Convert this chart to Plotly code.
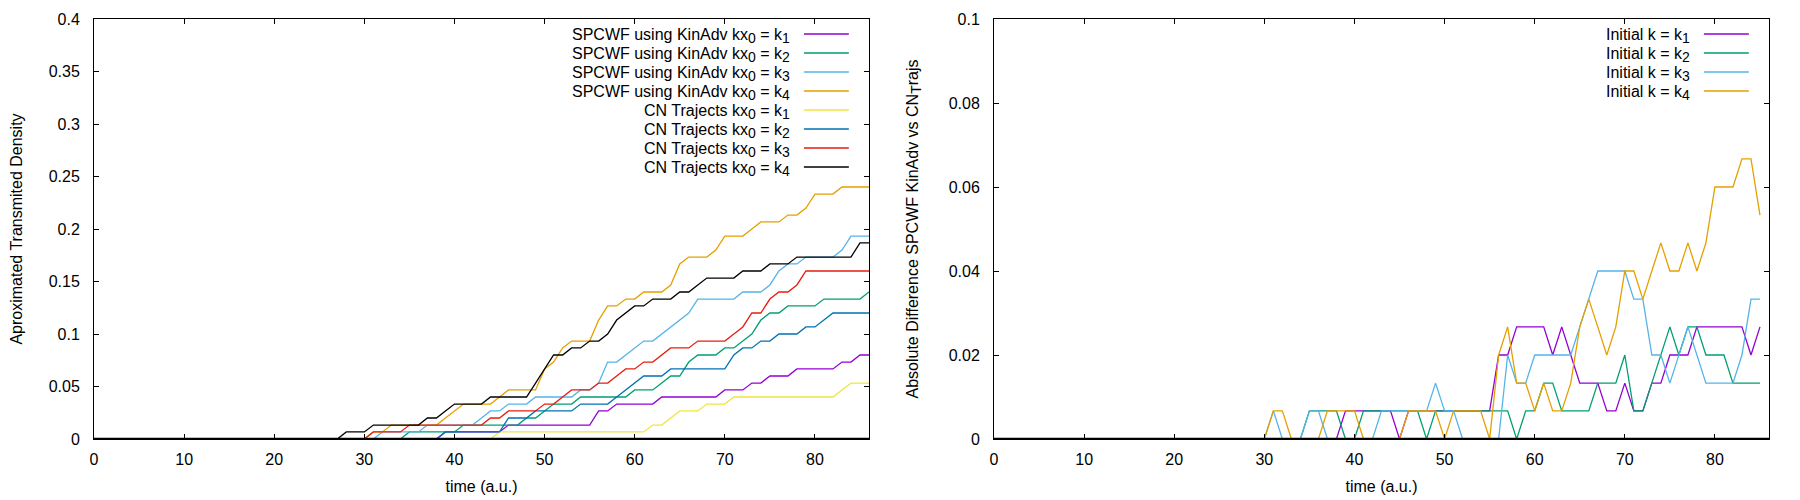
import plotly.graph_objects as go

# ---------------- data ----------------
time_left = list(range(0, 87))
time_right = list(range(0, 86))

spcwf_k1 = [
    0, 0, 0, 0, 0, 0, 0, 0, 0, 0,
    0, 0, 0, 0, 0, 0, 0, 0, 0, 0,
    0, 0, 0, 0, 0, 0, 0, 0, 0, 0,
    0, 0, 0, 0, 0, 0, 0, 0, 0, 0.0067,
    0.0067, 0.0067, 0.0067, 0.0067, 0.0067, 0.0067, 0.0133, 0.0133, 0.0133, 0.0133,
    0.0133, 0.0133, 0.0133, 0.0133, 0.0133, 0.0133, 0.0267, 0.0267, 0.0333, 0.0333,
    0.0333, 0.0333, 0.0333, 0.04, 0.04, 0.04, 0.04, 0.04, 0.04, 0.04,
    0.0467, 0.0467, 0.0467, 0.0533, 0.0533, 0.06, 0.06, 0.06, 0.0667, 0.0667,
    0.0667, 0.0667, 0.0667, 0.0733, 0.0733, 0.08, 0.08]

spcwf_k2 = [
    0, 0, 0, 0, 0, 0, 0, 0, 0, 0,
    0, 0, 0, 0, 0, 0, 0, 0, 0, 0,
    0, 0, 0, 0, 0, 0, 0, 0, 0, 0,
    0, 0, 0, 0, 0, 0.0067, 0.0067, 0.0067, 0.0067, 0.0067,
    0.0067, 0.0133, 0.0133, 0.0133, 0.0133, 0.0133, 0.0133, 0.0133, 0.02, 0.02,
    0.0267, 0.0333, 0.0333, 0.0333, 0.04, 0.04, 0.04, 0.04, 0.04, 0.04,
    0.0467, 0.0467, 0.0467, 0.0533, 0.06, 0.06, 0.0733, 0.08, 0.08, 0.08,
    0.0867, 0.0867, 0.0933, 0.1, 0.1133, 0.12, 0.12, 0.1267, 0.1267, 0.1267,
    0.1267, 0.1333, 0.1333, 0.1333, 0.1333, 0.1333, 0.14]

spcwf_k3 = [
    0, 0, 0, 0, 0, 0, 0, 0, 0, 0,
    0, 0, 0, 0, 0, 0, 0, 0, 0, 0,
    0, 0, 0, 0, 0, 0, 0, 0, 0, 0,
    0, 0, 0.0067, 0.0067, 0.0067, 0.0067, 0.0067, 0.0133, 0.0133, 0.0133,
    0.0133, 0.0133, 0.0133, 0.02, 0.0267, 0.0267, 0.0333, 0.0333, 0.0333, 0.04,
    0.04, 0.04, 0.04, 0.04, 0.0467, 0.0467, 0.0533, 0.0733, 0.0733, 0.08,
    0.0867, 0.0933, 0.0933, 0.1, 0.1067, 0.1133, 0.12, 0.1333, 0.1333, 0.1333,
    0.1333, 0.1333, 0.14, 0.14, 0.14, 0.1467, 0.16, 0.1667, 0.1667, 0.1733,
    0.1733, 0.1733, 0.1733, 0.18, 0.1933, 0.1933, 0.1933]

spcwf_k4 = [
    0, 0, 0, 0, 0, 0, 0, 0, 0, 0,
    0, 0, 0, 0, 0, 0, 0, 0, 0, 0,
    0, 0, 0, 0, 0, 0, 0, 0, 0, 0,
    0, 0.0067, 0.0067, 0.0133, 0.0133, 0.0133, 0.0133, 0.0133, 0.0133, 0.02,
    0.0267, 0.0333, 0.0333, 0.0333, 0.0333, 0.04, 0.0467, 0.0467, 0.0467, 0.0467,
    0.0667, 0.0733, 0.0867, 0.0933, 0.0933, 0.0933, 0.1133, 0.1267, 0.1267, 0.1333,
    0.1333, 0.14, 0.14, 0.14, 0.1467, 0.1667, 0.1733, 0.1733, 0.1733, 0.18,
    0.1933, 0.1933, 0.1933, 0.2, 0.2067, 0.2067, 0.2067, 0.2133, 0.2133, 0.22,
    0.2333, 0.2333, 0.2333, 0.24, 0.24, 0.24, 0.24]

cn_k1 = [
    0, 0, 0, 0, 0, 0, 0, 0, 0, 0,
    0, 0, 0, 0, 0, 0, 0, 0, 0, 0,
    0, 0, 0, 0, 0, 0, 0, 0, 0, 0,
    0, 0, 0, 0, 0, 0, 0, 0, 0, 0,
    0, 0, 0, 0, 0, 0.0067, 0.0067, 0.0067, 0.0067, 0.0067,
    0.0067, 0.0067, 0.0067, 0.0067, 0.0067, 0.0067, 0.0067, 0.0067, 0.0067, 0.0067,
    0.0067, 0.0067, 0.0133, 0.0133, 0.02, 0.0267, 0.0267, 0.0267, 0.0333, 0.0333,
    0.0333, 0.04, 0.04, 0.04, 0.04, 0.04, 0.04, 0.04, 0.04, 0.04,
    0.04, 0.04, 0.04, 0.0467, 0.0533, 0.0533, 0.0533]

cn_k2 = [
    0, 0, 0, 0, 0, 0, 0, 0, 0, 0,
    0, 0, 0, 0, 0, 0, 0, 0, 0, 0,
    0, 0, 0, 0, 0, 0, 0, 0, 0, 0,
    0, 0, 0, 0, 0, 0, 0, 0, 0, 0.0067,
    0.0067, 0.0067, 0.0067, 0.0067, 0.0067, 0.0067, 0.02, 0.02, 0.02, 0.0267,
    0.0267, 0.0267, 0.0267, 0.0267, 0.0333, 0.0333, 0.0333, 0.0333, 0.04, 0.0467,
    0.0533, 0.06, 0.06, 0.06, 0.0667, 0.0667, 0.0667, 0.0667, 0.0667, 0.0667,
    0.0667, 0.08, 0.0867, 0.0867, 0.0933, 0.0933, 0.1, 0.1, 0.1, 0.1067,
    0.1067, 0.1133, 0.12, 0.12, 0.12, 0.12, 0.12]

cn_k3 = [
    0, 0, 0, 0, 0, 0, 0, 0, 0, 0,
    0, 0, 0, 0, 0, 0, 0, 0, 0, 0,
    0, 0, 0, 0, 0, 0, 0, 0, 0, 0,
    0, 0.0067, 0.0067, 0.0067, 0.0067, 0.0133, 0.0133, 0.0133, 0.0133, 0.0133,
    0.0133, 0.0133, 0.0133, 0.0133, 0.02, 0.02, 0.0267, 0.0267, 0.0267, 0.0267,
    0.0333, 0.0333, 0.04, 0.0467, 0.0467, 0.0467, 0.0533, 0.0533, 0.06, 0.0667,
    0.0667, 0.0733, 0.0733, 0.08, 0.0867, 0.0867, 0.0867, 0.0933, 0.0933, 0.0933,
    0.0933, 0.1, 0.1067, 0.12, 0.12, 0.1333, 0.14, 0.14, 0.1467, 0.16,
    0.16, 0.16, 0.16, 0.16, 0.16, 0.16, 0.16]

cn_k4 = [
    0, 0, 0, 0, 0, 0, 0, 0, 0, 0,
    0, 0, 0, 0, 0, 0, 0, 0, 0, 0,
    0, 0, 0, 0, 0, 0, 0, 0, 0.0067, 0.0067,
    0.0067, 0.0133, 0.0133, 0.0133, 0.0133, 0.0133, 0.0133, 0.02, 0.02, 0.0267,
    0.0333, 0.0333, 0.0333, 0.0333, 0.04, 0.04, 0.04, 0.04, 0.04, 0.0533,
    0.0667, 0.08, 0.08, 0.0867, 0.0867, 0.0933, 0.0933, 0.1, 0.1133, 0.12,
    0.1267, 0.1267, 0.1333, 0.1333, 0.1333, 0.14, 0.14, 0.1467, 0.1533, 0.1533,
    0.1533, 0.1533, 0.16, 0.16, 0.16, 0.1667, 0.1667, 0.1667, 0.1733, 0.1733,
    0.1733, 0.1733, 0.1733, 0.1733, 0.1733, 0.1867, 0.1867]

diff_k1 = [
    0, 0, 0, 0, 0, 0, 0, 0, 0, 0,
    0, 0, 0, 0, 0, 0, 0, 0, 0, 0,
    0, 0, 0, 0, 0, 0, 0, 0, 0, 0,
    0, 0, 0, 0, 0, 0, 0, 0, 0, 0.0067,
    0.0067, 0.0067, 0.0067, 0.0067, 0.0067, 0, 0.0067, 0.0067, 0.0067, 0.0067,
    0.0067, 0.0067, 0.0067, 0.0067, 0.0067, 0.0067, 0.02, 0.02, 0.0267, 0.0267,
    0.0267, 0.0267, 0.02, 0.0267, 0.02, 0.0133, 0.0133, 0.0133, 0.0067, 0.0067,
    0.0133, 0.0067, 0.0067, 0.0133, 0.0133, 0.02, 0.02, 0.02, 0.0267, 0.0267,
    0.0267, 0.0267, 0.0267, 0.0267, 0.02, 0.0267]

diff_k2 = [
    0, 0, 0, 0, 0, 0, 0, 0, 0, 0,
    0, 0, 0, 0, 0, 0, 0, 0, 0, 0,
    0, 0, 0, 0, 0, 0, 0, 0, 0, 0,
    0, 0, 0, 0, 0, 0.0067, 0.0067, 0.0067, 0.0067, 0,
    0, 0.0067, 0.0067, 0.0067, 0.0067, 0.0067, 0.0067, 0.0067, 0, 0.0067,
    0.0067, 0.0067, 0.0067, 0.0067, 0.0067, 0.0067, 0.0067, 0.0067, 0, 0.0067,
    0.0067, 0.0133, 0.0133, 0.0067, 0.0067, 0.0067, 0.0067, 0.0133, 0.0133, 0.0133,
    0.02, 0.0067, 0.0067, 0.0133, 0.02, 0.0267, 0.02, 0.0267, 0.0267, 0.02,
    0.02, 0.02, 0.0133, 0.0133, 0.0133, 0.0133]

diff_k3 = [
    0, 0, 0, 0, 0, 0, 0, 0, 0, 0,
    0, 0, 0, 0, 0, 0, 0, 0, 0, 0,
    0, 0, 0, 0, 0, 0, 0, 0, 0, 0,
    0, 0.0067, 0, 0, 0, 0.0067, 0.0067, 0, 0, 0,
    0, 0, 0, 0.0067, 0.0067, 0.0067, 0.0067, 0.0067, 0.0067, 0.0133,
    0.0067, 0.0067, 0, 0, 0, 0, 0, 0.02, 0.0133, 0.0133,
    0.02, 0.02, 0.02, 0.02, 0.02, 0.0267, 0.0333, 0.04, 0.04, 0.04,
    0.04, 0.0333, 0.0333, 0.02, 0.02, 0.0133, 0.02, 0.0267, 0.02, 0.0133,
    0.0133, 0.0133, 0.0133, 0.02, 0.0333, 0.0333]

diff_k4 = [
    0, 0, 0, 0, 0, 0, 0, 0, 0, 0,
    0, 0, 0, 0, 0, 0, 0, 0, 0, 0,
    0, 0, 0, 0, 0, 0, 0, 0, 0, 0,
    0, 0.0067, 0.0067, 0, 0, 0, 0, 0.0067, 0.0067, 0.0067,
    0.0067, 0, 0, 0, 0, 0, 0.0067, 0.0067, 0.0067, 0.0067,
    0, 0.0067, 0.0067, 0.0067, 0.0067, 0, 0.02, 0.0267, 0.0133, 0.0133,
    0.0067, 0.0133, 0.0067, 0.0067, 0.0133, 0.0267, 0.0333, 0.0267, 0.02, 0.0267,
    0.04, 0.04, 0.0333, 0.04, 0.0467, 0.04, 0.04, 0.0467, 0.04, 0.0467,
    0.06, 0.06, 0.06, 0.0667, 0.0667, 0.0533]

SUB = "<sub><span style='font-size:14px'>{}</span></sub>"

left_labels = [
    "SPCWF using KinAdv kx" + SUB.format("0") + " = k" + SUB.format("1"),
    "SPCWF using KinAdv kx" + SUB.format("0") + " = k" + SUB.format("2"),
    "SPCWF using KinAdv kx" + SUB.format("0") + " = k" + SUB.format("3"),
    "SPCWF using KinAdv kx" + SUB.format("0") + " = k" + SUB.format("4"),
    "CN Trajects kx" + SUB.format("0") + " = k" + SUB.format("1"),
    "CN Trajects kx" + SUB.format("0") + " = k" + SUB.format("2"),
    "CN Trajects kx" + SUB.format("0") + " = k" + SUB.format("3"),
    "CN Trajects kx" + SUB.format("0") + " = k" + SUB.format("4"),
]
right_labels = [
    "Initial k = k" + SUB.format("1"),
    "Initial k = k" + SUB.format("2"),
    "Initial k = k" + SUB.format("3"),
    "Initial k = k" + SUB.format("4"),
]

left_series = [spcwf_k1, spcwf_k2, spcwf_k3, spcwf_k4, cn_k1, cn_k2, cn_k3, cn_k4]
right_series = [diff_k1, diff_k2, diff_k3, diff_k4]

left_colors = ["#9400d3", "#009e73", "#56b4e9", "#e69f00",
               "#f0e442", "#0072b2", "#e51e10", "#000000"]
right_colors = ["#9400d3", "#009e73", "#56b4e9", "#e69f00"]

# ---------------- figure ----------------
FONT = "Liberation Sans, Arial, sans-serif"
FS = 16
LW = 1.3

fig = go.Figure()

for vals, col, lab in zip(left_series, left_colors, left_labels):
    fig.add_trace(go.Scatter(x=time_left, y=vals, mode="lines",
                             line=dict(color=col, width=LW),
                             name=lab, showlegend=False,
                             xaxis="x", yaxis="y"))

for vals, col, lab in zip(right_series, right_colors, right_labels):
    fig.add_trace(go.Scatter(x=time_right, y=vals, mode="lines",
                             line=dict(color=col, width=LW),
                             name=lab, showlegend=False,
                             xaxis="x2", yaxis="y2"))

axis_common = dict(
    showline=True, linecolor="black", linewidth=1, mirror="ticks",
    ticks="inside", ticklen=5, tickwidth=1, tickcolor="black",
    showgrid=False, zeroline=False, automargin=False,
    tickfont=dict(family=FONT, size=FS, color="black"),
)

# page body has an 8px margin: shrink the figure so the plot areas land
# on the same page pixels as the reference
W = 1792
H = 492
ml, mr, mt, mb = 86, 31, 11, 61
pw = W - ml - mr
left_end = 775 / pw
right_start = 900 / pw

fig.update_layout(
    width=W, height=H,
    margin=dict(l=ml, r=mr, t=mt, b=mb, pad=0),
    paper_bgcolor="white", plot_bgcolor="white",
    font=dict(family=FONT, size=FS, color="black"),
    xaxis=dict(domain=[0, left_end], range=[0, 86], tick0=0, dtick=10,
               anchor="y", ticklabelstandoff=6,
               title=dict(text="time (a.u.)", standoff=13,
                          font=dict(family=FONT, size=FS)),
               **axis_common),
    yaxis=dict(domain=[0, 1], range=[0, 0.4], tick0=0, dtick=0.05,
               anchor="x", ticklabelstandoff=10,
               title=dict(text="Aproximated Transmited Density", standoff=26,
                          font=dict(family=FONT, size=FS)),
               **axis_common),
    xaxis2=dict(domain=[right_start, 1], range=[0, 86], tick0=0, dtick=10,
                anchor="y2", ticklabelstandoff=6,
                title=dict(text="time (a.u.)", standoff=13,
                           font=dict(family=FONT, size=FS)),
                **axis_common),
    yaxis2=dict(domain=[0, 1], range=[0, 0.1], tick0=0, dtick=0.02,
                anchor="x2", ticklabelstandoff=10,
                title=dict(text="Absolute Difference SPCWF KinAdv vs CN" + SUB.format("T") + "rajs",
                           standoff=26, font=dict(family=FONT, size=FS)),
                **axis_common),
)

# black border drawn over the zero level (gnuplot draws its border in front)
plot_h = 420
for xd, yd in (("x domain", "y domain"), ("x2 domain", "y2 domain")):
    fig.add_shape(type="line", xref=xd, yref=yd, x0=0, x1=1,
                  y0=0.6 / plot_h, y1=0.6 / plot_h,
                  line=dict(color="black", width=1.2), layer="above")

# gnuplot-style key: right-justified text followed by line sample
row_top = 34
row_gap = 19


def add_key(labels, colors, xd, yd):
    for i, (lab, col) in enumerate(zip(labels, colors)):
        yfrac = (439 - (row_top + row_gap * i)) / plot_h
        fig.add_annotation(text=lab, xref=xd, yref=yd, x=0.9, y=yfrac,
                           xanchor="right", yanchor="middle", showarrow=False,
                           align="right", yshift=-2,
                           font=dict(family=FONT, size=FS, color="black"))
        fig.add_shape(type="line", xref=xd, yref=yd,
                      x0=0.916, x1=0.974, y0=yfrac, y1=yfrac,
                      line=dict(color=col, width=LW))


add_key(left_labels, left_colors, "x domain", "y domain")
add_key(right_labels, right_colors, "x2 domain", "y2 domain")

fig.write_html("out.html")
